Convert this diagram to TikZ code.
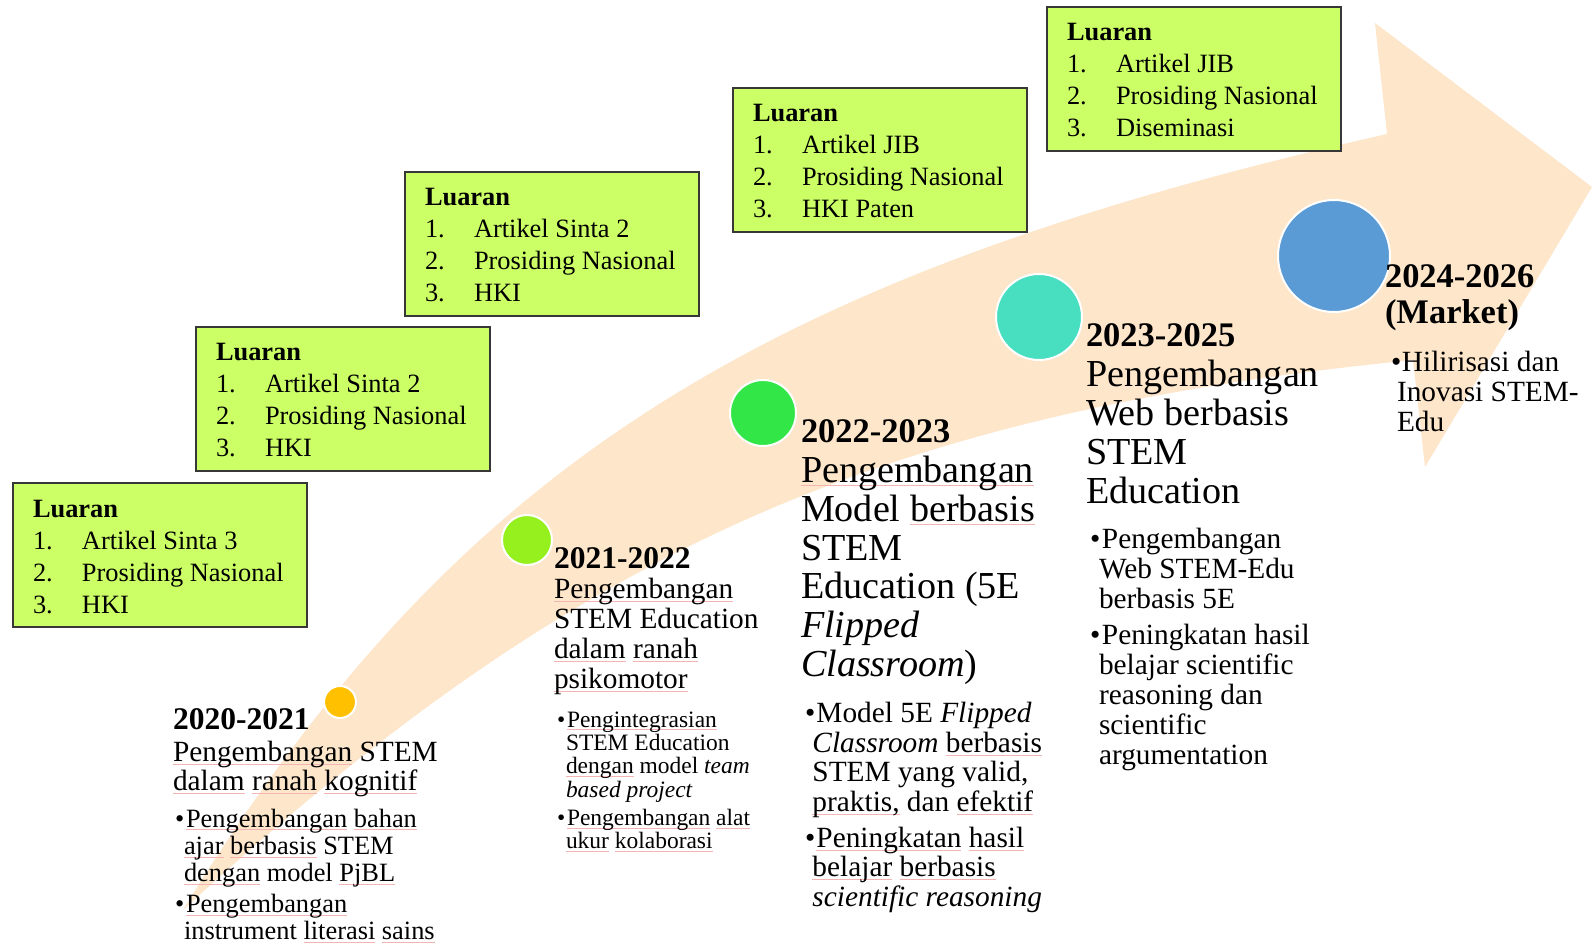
\documentclass[tikz,border=0pt]{standalone}
\usepackage{fontspec}
\setmainfont[Scale=1.1]{Liberation Serif}
\usetikzlibrary{calc}
\definecolor{bandc}{RGB}{253,230,202}
\definecolor{boxfill}{RGB}{204,255,102}
\definecolor{boxline}{RGB}{55,55,55}
\definecolor{cA}{RGB}{255,192,0}
\definecolor{cB}{RGB}{150,240,30}
\definecolor{cC}{RGB}{50,230,72}
\definecolor{cD}{RGB}{72,222,192}
\definecolor{cE}{RGB}{91,155,213}
\definecolor{sqred}{RGB}{244,180,180}
\newsavebox\sqbox
\newcommand\sq[1]{\sbox\sqbox{#1}\rlap{\textcolor{sqred}{\rule[-2.2pt]{\wd\sqbox}{0.45pt}}}\usebox\sqbox}
\makeatletter
\newcommand\ts{\rule{0pt}{\f@size pt}}
\makeatother
\newcommand\bul[1]{\makebox[#1][l]{\textbullet}}
\tikzset{
  dot/.style={circle,draw=white,line width=1.5pt},
  lbox/.style={rectangle,draw=boxline,fill=boxfill,line width=1.1pt,minimum width=220.5pt,minimum height=108pt,anchor=north west},
  ltext/.style={anchor=north west,align=left,font=\fontsize{18}{24}\selectfont},
  headA/.style={anchor=north west,align=left,font=\fontsize{21.5}{27}\selectfont\bfseries},
  headC/.style={anchor=north west,align=left,font=\fontsize{23.5}{27.4}\selectfont\bfseries},
  txt/.style={anchor=north west,align=left},
}
\begin{document}
\begin{tikzpicture}[x=0.75pt,y=-0.75pt,every node/.style={inner sep=0pt,outer sep=0pt}]
\useasboundingbox (0,0) rectangle (1592,944);
\fill[white] (0,0) rectangle (1592,944);
% curved arrow band
\fill[bandc] (183,910) .. controls (453,470) and (754,277) .. (1387,134)
  -- (1375,23) -- (1592,187) -- (1425,467) -- (1413,360)
  .. controls (881,413) and (574,550) .. (183,910) -- cycle;
% circles
\node[dot,fill=cA,minimum size=24pt] (dA) at (340,702) {};
\node[dot,fill=cB,minimum size=37.5pt] (dB) at (527,540) {};
\node[dot,fill=cC,minimum size=49.5pt] (dC) at (763,413) {};
\node[dot,fill=cD,minimum size=64.5pt] (dD) at (1039,317) {};
\node[dot,fill=cE,minimum size=84pt] (dE) at (1334,256) {};
% output boxes
\node[lbox] (b1) at (13,483) {};
\node[lbox] (b2) at (196,327) {};
\node[lbox] (b3) at (405,172) {};
\node[lbox] (b4) at (733,88) {};
\node[lbox] (b5) at (1047,7) {};
\node[ltext] (t1) at ($(b1.north west)+(20,10)$) {\ts\textbf{Luaran}\\\makebox[36.75pt][l]{1.}Artikel Sinta 3\\\makebox[36.75pt][l]{2.}Prosiding Nasional\\\makebox[36.75pt][l]{3.}HKI};
\node[ltext] (t2) at ($(b2.north west)+(20,10)$) {\ts\textbf{Luaran}\\\makebox[36.75pt][l]{1.}Artikel Sinta 2\\\makebox[36.75pt][l]{2.}Prosiding Nasional\\\makebox[36.75pt][l]{3.}HKI};
\node[ltext] (t3) at ($(b3.north west)+(20,10)$) {\ts\textbf{Luaran}\\\makebox[36.75pt][l]{1.}Artikel Sinta 2\\\makebox[36.75pt][l]{2.}Prosiding Nasional\\\makebox[36.75pt][l]{3.}HKI};
\node[ltext] (t4) at ($(b4.north west)+(20,10)$) {\ts\textbf{Luaran}\\\makebox[36.75pt][l]{1.}Artikel JIB\\\makebox[36.75pt][l]{2.}Prosiding Nasional\\\makebox[36.75pt][l]{3.}HKI Paten};
\node[ltext] (t5) at ($(b5.north west)+(20,10)$) {\ts\textbf{Luaran}\\\makebox[36.75pt][l]{1.}Artikel JIB\\\makebox[36.75pt][l]{2.}Prosiding Nasional\\\makebox[36.75pt][l]{3.}Diseminasi};
% 2020-2021
\node[headA] (hA) at (173,701.3) {\ts 2020-2021};
\node[txt,font=\fontsize{20}{21.4}\selectfont] (sA) at (173,735.3) {\ts\sq{Pengembangan} STEM\\\sq{dalam} \sq{ranah} \sq{kognitif}};
\node[txt,font=\fontsize{18}{20.5}\selectfont] (lA) at (175,803) {\ts\bul{8.25pt}\sq{Pengembangan} \sq{bahan}\\\hspace*{6.75pt}\sq{ajar} \sq{berbasis} STEM\\\hspace*{6.75pt}\sq{dengan} model \sq{PjBL}\\[2.6pt]\bul{8.25pt}\sq{Pengembangan}\\\hspace*{6.75pt}instrument \sq{literasi} \sq{sains}};
% 2021-2022
\node[headA] (hB) at (554,540.3) {\ts 2021-2022};
\node[txt,font=\fontsize{20}{22.3}\selectfont] (sB) at (554,572.3) {\ts\sq{Pengembangan}\\STEM Education\\\sq{dalam} \sq{ranah}\\\sq{psikomotor}};
\node[txt,font=\fontsize{16}{17.6}\selectfont] (lB) at (557,705.7) {\ts\bul{7.5pt}\sq{Pengintegrasian}\\\hspace*{6.75pt}STEM Education\\\hspace*{6.75pt}\sq{dengan} model \textit{team}\\\hspace*{6.75pt}\textit{based project}\\[3.4pt]\bul{7.5pt}\sq{Pengembangan} \sq{alat}\\\hspace*{6.75pt}\sq{ukur} \sq{kolaborasi}};
% 2022-2023
\node[headC] (hC) at (801,410.7) {\ts 2022-2023};
\node[txt,font=\fontsize{26}{29}\selectfont] (sC) at (801,448.3) {\ts\sq{Pengembangan}\\Model \sq{berbasis}\\STEM\\Education (5E\\\textit{Flipped}\\\textit{Classroom})};
\node[txt,font=\fontsize{20}{22.1}\selectfont] (lC) at (805,696.3) {\ts\bul{8.6pt}Model 5E \textit{Flipped}\\\hspace*{5.6pt}\textit{Classroom} \sq{berbasis}\\\hspace*{5.6pt}STEM yang valid,\\\hspace*{5.6pt}\sq{praktis,} dan \sq{efektif}\\[4.8pt]\bul{8.6pt}\sq{Peningkatan} \sq{hasil}\\\hspace*{5.6pt}\sq{belajar} \sq{berbasis}\\\hspace*{5.6pt}\textit{scientific reasoning}};
% 2023-2025
\node[headC] (hD) at (1086,314.7) {\ts 2023-2025};
\node[txt,font=\fontsize{26}{29.25}\selectfont] (sD) at (1086,352.3) {\ts Pengembangan\\Web berbasis\\STEM\\Education};
\node[txt,font=\fontsize{20}{22.45}\selectfont] (lD) at (1090,522.3) {\ts\bul{9pt}Pengembangan\\\hspace*{6.75pt}Web STEM-Edu\\\hspace*{6.75pt}berbasis 5E\\[4.4pt]\bul{9pt}Peningkatan hasil\\\hspace*{6.75pt}belajar scientific\\\hspace*{6.75pt}reasoning dan\\\hspace*{6.75pt}scientific\\\hspace*{6.75pt}argumentation};
% 2024-2026
\node[headC] (hE) at (1385,255.7) {\ts 2024-2026\\(Market)};
\node[txt,font=\fontsize{20}{22.2}\selectfont] (lE) at (1391,345.3) {\ts\bul{8.25pt}Hilirisasi dan\\\hspace*{4.5pt}Inovasi STEM-\\\hspace*{4.5pt}Edu};
\end{tikzpicture}
\end{document}
